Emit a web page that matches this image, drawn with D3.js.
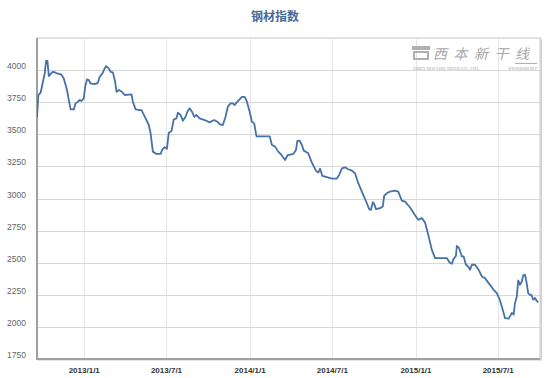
<!DOCTYPE html>
<html>
<head>
<meta charset="utf-8">
<script src="https://cdn.jsdelivr.net/npm/d3@7"></script>
<style>
  body { margin: 0; background: #fff; }
  svg { display: block; font-family: "Liberation Sans", Arial, sans-serif; }
</style>
</head>
<body>
<div id="chart"></div>
<script>
// steel price index
const dates = [
  "2012-09-19", "2012-09-22", "2012-09-27", "2012-10-02", "2012-10-06", "2012-10-09", "2012-10-12", "2012-10-15",
  "2012-10-20", "2012-10-24", "2012-10-29", "2012-11-02", "2012-11-11", "2012-11-17", "2012-11-24", "2012-11-28",
  "2012-12-02", "2012-12-09", "2012-12-13", "2012-12-18", "2012-12-22", "2012-12-26", "2012-12-31", "2013-01-03",
  "2013-01-07", "2013-01-11", "2013-01-15", "2013-01-24", "2013-01-31", "2013-02-04", "2013-02-10", "2013-02-15",
  "2013-02-18", "2013-02-24", "2013-02-28", "2013-03-05", "2013-03-10", "2013-03-13", "2013-03-18", "2013-03-25",
  "2013-03-31", "2013-04-15", "2013-04-18", "2013-04-24", "2013-05-03", "2013-05-07", "2013-05-18", "2013-05-23",
  "2013-05-27", "2013-06-01", "2013-06-09", "2013-06-18", "2013-06-22", "2013-06-27", "2013-07-02", "2013-07-06",
  "2013-07-12", "2013-07-17", "2013-07-23", "2013-07-26", "2013-08-01", "2013-08-06", "2013-08-12", "2013-08-16",
  "2013-08-21", "2013-08-26", "2013-08-31", "2013-09-05", "2013-09-12", "2013-09-23", "2013-10-04", "2013-10-14",
  "2013-10-21", "2013-10-26", "2013-11-02", "2013-11-08", "2013-11-13", "2013-11-19", "2013-11-24", "2013-11-28",
  "2013-12-04", "2013-12-09", "2013-12-14", "2013-12-20", "2013-12-25", "2013-12-31", "2014-01-05", "2014-01-10",
  "2014-01-15", "2014-02-13", "2014-02-18", "2014-02-25", "2014-03-04", "2014-03-11", "2014-03-19", "2014-03-24",
  "2014-04-06", "2014-04-12", "2014-04-15", "2014-04-20", "2014-04-25", "2014-04-29", "2014-05-09", "2014-05-16",
  "2014-05-26", "2014-05-31", "2014-06-04", "2014-06-09", "2014-06-19", "2014-06-30", "2014-07-11", "2014-07-16",
  "2014-07-22", "2014-07-29", "2014-08-05", "2014-08-13", "2014-08-20", "2014-08-27", "2014-09-07", "2014-09-15",
  "2014-09-20", "2014-09-24", "2014-09-28", "2014-10-01", "2014-10-05", "2014-10-14", "2014-10-20", "2014-10-23",
  "2014-10-29", "2014-11-05", "2014-11-16", "2014-11-23", "2014-12-01", "2014-12-08", "2014-12-19", "2014-12-30",
  "2015-01-06", "2015-01-14", "2015-01-21", "2015-01-28", "2015-02-05", "2015-02-12", "2015-03-10", "2015-03-16",
  "2015-03-21", "2015-03-24", "2015-03-30", "2015-04-01", "2015-04-06", "2015-04-12", "2015-04-16", "2015-04-21",
  "2015-04-26", "2015-04-30", "2015-05-04", "2015-05-11", "2015-05-19", "2015-05-26", "2015-06-02", "2015-06-10",
  "2015-06-21", "2015-06-28", "2015-07-05", "2015-07-11", "2015-07-16", "2015-07-24", "2015-07-27", "2015-07-31",
  "2015-08-04", "2015-08-07", "2015-08-11", "2015-08-14", "2015-08-18", "2015-08-22", "2015-08-25", "2015-08-29",
  "2015-09-01", "2015-09-05", "2015-09-09", "2015-09-12", "2015-09-16", "2015-09-20", "2015-09-23", "2015-09-27"
];
const values = [
  3632, 3806, 3824, 3909, 3974, 4072, 4072, 3953,
  3974, 3987, 3982, 3974, 3967, 3935, 3845, 3767,
  3694, 3694, 3741, 3754, 3767, 3759, 3780, 3870,
  3928, 3922, 3896, 3891, 3901, 3948, 3974, 4013,
  4031, 4013, 3987, 3982, 3909, 3831, 3845, 3831,
  3806, 3811, 3754, 3694, 3689, 3689, 3611, 3572,
  3508, 3365, 3347, 3347, 3383, 3399, 3388, 3512,
  3526, 3617, 3624, 3668, 3650, 3606, 3637, 3676,
  3702, 3676, 3637, 3650, 3624, 3611, 3593, 3611,
  3598, 3580, 3572, 3637, 3715, 3741, 3741, 3728,
  3754, 3772, 3792, 3792, 3754, 3676, 3598, 3585,
  3484, 3484, 3417, 3404, 3365, 3339, 3300, 3335,
  3347, 3378, 3448, 3450, 3417, 3373, 3352, 3287,
  3215, 3202, 3232, 3176, 3166, 3155, 3155, 3183,
  3235, 3243, 3228, 3217, 3197, 3119, 3028, 2963,
  2917, 2911, 2971, 2958, 2917, 2925, 2937, 3020,
  3041, 3054, 3061, 3054, 2984, 2976, 2930, 2870,
  2834, 2847, 2813, 2717, 2600, 2536, 2536, 2502,
  2491, 2523, 2554, 2631, 2613, 2549, 2549, 2484,
  2471, 2445, 2484, 2484, 2445, 2393, 2380, 2341,
  2289, 2263, 2206, 2134, 2069, 2064, 2082, 2108,
  2095, 2186, 2237, 2362, 2328, 2354, 2401, 2406,
  2354, 2263, 2250, 2250, 2212, 2225, 2206, 2191
];
const yTicks = [1750, 2000, 2250, 2500, 2750, 3000, 3250, 3500, 3750, 4000];
const xTicks = ["2013-01-01", "2013-07-01", "2014-01-01", "2014-07-01", "2015-01-01", "2015-07-01"];
const xDomain = ["2012-09-19", "2015-10-01"];
const yDomain = [1750, 4250];

const width = 557;
const height = 378;
const plotL = 37, plotR = 540, plotT = 38, plotB = 359;

const parse = d3.timeParse("%Y-%m-%d");
const data = dates.map((d, i) => ({ date: parse(d), value: values[i] }));

const svg = d3.select("#chart").append("svg").attr("width", width).attr("height", height);

const x = d3.scaleTime().domain(xDomain.map(parse)).range([plotL, plotR]);
const y = d3.scaleLinear().domain(yDomain).range([plotB, plotT]);

// title
svg.append("text")
  .attr("x", 275)
  .attr("y", 21)
  .attr("text-anchor", "middle")
  .attr("font-family", "'Noto Sans CJK SC', sans-serif")
  .attr("font-size", 12)
  .attr("font-weight", "bold")
  .attr("fill", "#4a6a96")
  .text("钢材指数");

// plot border with a faint shadow
svg.append("rect")
  .attr("x", plotL + 1).attr("y", plotT + 1)
  .attr("width", plotR - plotL).attr("height", plotB - plotT)
  .attr("fill", "none").attr("stroke", "#e4e4e4").attr("stroke-width", 2);
svg.append("rect")
  .attr("x", plotL).attr("y", plotT)
  .attr("width", plotR - plotL).attr("height", plotB - plotT)
  .attr("fill", "#fff").attr("stroke", "#c8c8c8").attr("stroke-width", 1);

// vertical grid
svg.append("g")
  .selectAll("line")
  .data(xTicks.map(parse))
  .join("line")
  .attr("x1", (d) => Math.round(x(d)) + 0.5)
  .attr("x2", (d) => Math.round(x(d)) + 0.5)
  .attr("y1", plotT)
  .attr("y2", plotB)
  .attr("stroke", "#e6e6e6");

// horizontal grid
svg.append("g")
  .selectAll("line")
  .data(yTicks.slice(1))
  .join("line")
  .attr("x1", plotL)
  .attr("x2", plotR)
  .attr("y1", (d) => Math.round(y(d)) + 0.5)
  .attr("y2", (d) => Math.round(y(d)) + 0.5)
  .attr("stroke", "#d8d8d8");

// watermark
const wm = svg.append("g").attr("fill", "#a8a8a8");
wm.append("rect").attr("x", 412).attr("y", 46).attr("width", 18).attr("height", 4).attr("fill", "#b0b0b0");
wm.append("rect").attr("x", 414).attr("y", 52).attr("width", 14).attr("height", 7).attr("fill", "none")
  .attr("stroke", "#b0b0b0").attr("stroke-width", 2);
wm.append("text")
  .attr("x", 433).attr("y", 59)
  .attr("font-family", "'Noto Sans CJK SC', sans-serif")
  .attr("font-size", 14)
  .attr("font-style", "italic")
  .attr("textLength", 96)
  .text("西本新干线");
wm.append("line").attr("x1", 515).attr("x2", 537).attr("y1", 63.5).attr("y2", 63.5).attr("stroke", "#b0b0b0");
wm.append("text")
  .attr("x", 413).attr("y", 70)
  .attr("font-family", "'Liberation Serif', serif")
  .attr("font-size", 4.5)
  .attr("font-style", "italic")
  .attr("textLength", 66)
  .text("XIBEN NEW LINE STOCK CO., LTD.");
wm.append("text")
  .attr("x", 508).attr("y", 70)
  .attr("font-family", "'Liberation Serif', serif")
  .attr("font-size", 4.5)
  .attr("font-style", "italic")
  .attr("textLength", 29)
  .text("WWW.96369.NET");

// axes lines
svg.append("line")
  .attr("x1", plotL).attr("x2", plotL).attr("y1", plotT).attr("y2", plotB + 1)
  .attr("stroke", "#a0a0a0").attr("stroke-width", 2);
svg.append("line")
  .attr("x1", plotL).attr("x2", plotR).attr("y1", plotB).attr("y2", plotB)
  .attr("stroke", "#a0a0a0").attr("stroke-width", 2);
svg.append("line")
  .attr("x1", plotR + 1.5).attr("x2", plotR + 1.5).attr("y1", plotT + 2).attr("y2", plotB + 1)
  .attr("stroke", "#d0d0d0").attr("stroke-width", 1);

// y labels
svg.append("g")
  .selectAll("text")
  .data(yTicks)
  .join("text")
  .attr("x", 26)
  .attr("y", (d) => y(d) - 1)
  .attr("text-anchor", "end")
  .attr("font-size", 8.5)
  .attr("fill", "#666")
  .text((d) => d);

// x labels
const fmt = (d) => `${d.getFullYear()}/${d.getMonth() + 1}/${d.getDate()}`;
svg.append("g")
  .selectAll("text")
  .data(xTicks.map(parse))
  .join("text")
  .attr("x", (d) => x(d))
  .attr("y", 373)
  .attr("text-anchor", "middle")
  .attr("font-size", 8)
  .attr("font-weight", "bold")
  .attr("fill", "#333")
  .text(fmt);

// the series
svg.append("clipPath").attr("id", "clip")
  .append("rect").attr("x", plotL).attr("y", plotT).attr("width", plotR - plotL).attr("height", plotB - plotT);

const line = d3.line().x((d) => x(d.date)).y((d) => y(d.value));

svg.append("path")
  .datum(data)
  .attr("clip-path", "url(#clip)")
  .attr("fill", "none")
  .attr("stroke", "#4572a7")
  .attr("stroke-width", 1.8)
  .attr("stroke-linejoin", "round")
  .attr("d", line);
</script>
</body>
</html>
